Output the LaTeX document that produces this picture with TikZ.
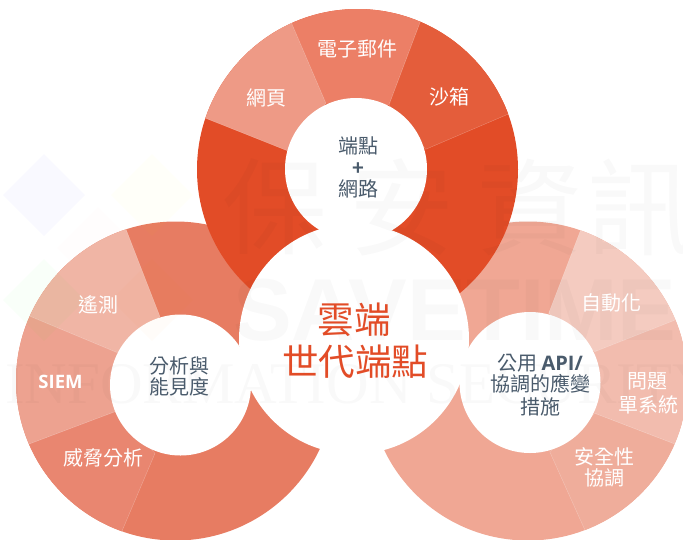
\documentclass[tikz,border=0pt]{standalone}
\usepackage{fontspec}
\usepackage{graphicx}
\setmainfont{Open Sans}
\newfontfamily\cjk{Noto Sans CJK TC}
\newfontfamily\cjkb{Noto Sans CJK TC Bold}
\newfontfamily\lat{Open Sans}
\newfontfamily\wmsans{Liberation Sans}
\newfontfamily\wmserif{Liberation Serif}
\definecolor{inkslate}{HTML}{4A5B6C}
\definecolor{redmain}{HTML}{E24C27}
\definecolor{webc}{HTML}{EE9A86}
\definecolor{mailc}{HTML}{EC7F66}
\definecolor{sandc}{HTML}{E45D3B}
\definecolor{leftbig}{HTML}{E77C62}
\definecolor{telec}{HTML}{F0B5A5}
\definecolor{siemc}{HTML}{EDA290}
\definecolor{threatc}{HTML}{E98670}
\definecolor{rightbig}{HTML}{F0A794}
\definecolor{autoc}{HTML}{F4CBC0}
\definecolor{ticketc}{HTML}{F2BCAE}
\definecolor{secc}{HTML}{EFAD9B}
\tikzset{
  lbl/.style={inner sep=0pt,align=center,font=\cjk\fontsize{20}{21}\selectfont},
  lblw/.style={lbl,text=white},
  lbld/.style={lbl,text=inkslate},
  sector/.style={draw=white,draw opacity=.35,line width=.3pt},
  hole/.style={fill=white},
  wmtext/.style={inner sep=0pt,text=black,text opacity=.025},
  wmdiamond/.style={opacity=.022}
}
\begin{document}
\begin{tikzpicture}[x=1pt,y=-1pt]
\path[use as bounding box] (0,0) rectangle (683,539);
\clip (0,0) rectangle (683,539);
% left ring
\fill[leftbig] (175.5,381) circle[radius=159.5pt];
\begin{scope}
\clip (175.5,381) circle[radius=159.5pt];
\filldraw[sector,fill=telec] (160,316.7)--(114.6,200)--(0,200)--(0,303.8)--(117.3,352.7)--cycle;
\filldraw[sector,fill=siemc] (117.3,352.7)--(0,303.8)--(0,455)--(115,411.7)--cycle;
\filldraw[sector,fill=threatc] (115,411.7)--(0,455)--(0,560)--(109.7,560)--(155,453.3)--cycle;
\end{scope}
% right ring
\fill[rightbig] (528,381) circle[radius=159.5pt];
\begin{scope}
\clip (528,381) circle[radius=159.5pt];
\filldraw[sector,fill=autoc] (548.7,313.3)--(592.2,200)--(700,200)--(700,310.3)--(594.7,351.7)--cycle;
\filldraw[sector,fill=ticketc] (594.7,351.7)--(700,310.3)--(700,453.7)--(594.7,413.3)--cycle;
\filldraw[sector,fill=secc] (594.7,413.3)--(700,453.7)--(700,560)--(598.4,560)--(549.7,451.7)--cycle;
\end{scope}
% top ring
\fill[redmain] (357.5,169.5) circle[radius=160.5pt];
\begin{scope}
\clip (357.5,169.5) circle[radius=160.5pt];
\filldraw[sector,fill=webc] (287.3,150.7)--(190,112)--(190,0)--(281.7,0)--(326,103.3)--cycle;
\filldraw[sector,fill=mailc] (326,103.3)--(281.7,0)--(428.5,0)--(389,105)--cycle;
\filldraw[sector,fill=sandc] (389,105)--(428.5,0)--(530,0)--(530,104.8)--(425.7,149.3)--cycle;
\end{scope}
% white discs
\fill[hole] (356,169) circle[radius=71pt];
\fill[hole] (180.5,385) circle[radius=70.5pt];
\fill[hole] (530,382.5) circle[radius=70.5pt];
\fill[hole] (354,339) circle[radius=115pt];
% watermark
\fill[wmdiamond,blue] (44,154)--(85,195)--(44,236)--(3,195)--cycle;
\fill[wmdiamond,yellow] (152,154)--(193,195)--(152,236)--(111,195)--cycle;
\fill[wmdiamond,pink] (98,207)--(139,248)--(98,289)--(57,248)--cycle;
\fill[wmdiamond,green] (44,259)--(85,300)--(44,341)--(3,300)--cycle;
\fill[wmdiamond,orange] (152,259)--(193,300)--(152,341)--(111,300)--cycle;
\node[wmtext,font=\cjk\fontsize{105}{105}\selectfont] (wmA) at (275,207) {保};
\node[wmtext,font=\cjk\fontsize{105}{105}\selectfont] (wmB) at (402,207) {安};
\node[wmtext,font=\cjk\fontsize{105}{105}\selectfont] (wmC) at (530,207) {資};
\node[wmtext,font=\cjk\fontsize{105}{105}\selectfont] (wmD) at (640,207) {訊};
\node[wmtext,anchor=base west,font=\wmsans\bfseries\fontsize{88}{88}\selectfont] (wmE) at (233,340) {SAVETIME};
\node[wmtext,anchor=base west,font=\wmserif\fontsize{59}{62}\selectfont] (wmF) at (5,403) {INFORMATION SECURITY};
% top labels
\node[lblw] (mail) at (357,49) {電子郵件};
\node[lblw] (web) at (266,98) {網頁};
\node[lblw] (sand) at (449,97) {沙箱};
\node[lbld] (ep) at (358,146) {端點};
\node[lbld,font=\cjkb\fontsize{20}{21}\selectfont] (plus) at (358,169) {+};
\node[lbld] (net) at (358,189) {網路};
% left labels
\node[lblw] (tele) at (98,305) {遙測};
\node[lblw,font=\lat\bfseries\fontsize{18.5}{20}\selectfont] (siem) at (60.5,382) {SIEM};
\node[lblw] (threat) at (103,458) {威脅分析};
\node[lbld] (ana) at (179,366) {分析與};
\node[lbld] (vis) at (179,387) {能見度};
% centre
\node[lbl,text=redmain,font=\cjk\fontsize{36.5}{38}\selectfont] (cloud) at (354,320) {雲端};
\node[lbl,text=redmain,font=\cjk\fontsize{36.5}{38}\selectfont] (gen) at (355,362) {世代端點};
% right labels
\node[lblw] (auto) at (611,303) {自動化};
\node[lblw] (tick) at (647,381) {問題};
\node[lblw] (sys) at (648,405) {單系統};
\node[lblw] (sec) at (604,457) {安全性};
\node[lblw] (orch) at (604,478) {協調};
\node[lbld] (api) at (540,363) {公用 {\lat\bfseries API/}};
\node[lbld] (resp) at (540,384) {協調的應變};
\node[lbld] (meas) at (540,407) {措施};
\end{tikzpicture}
\end{document}
